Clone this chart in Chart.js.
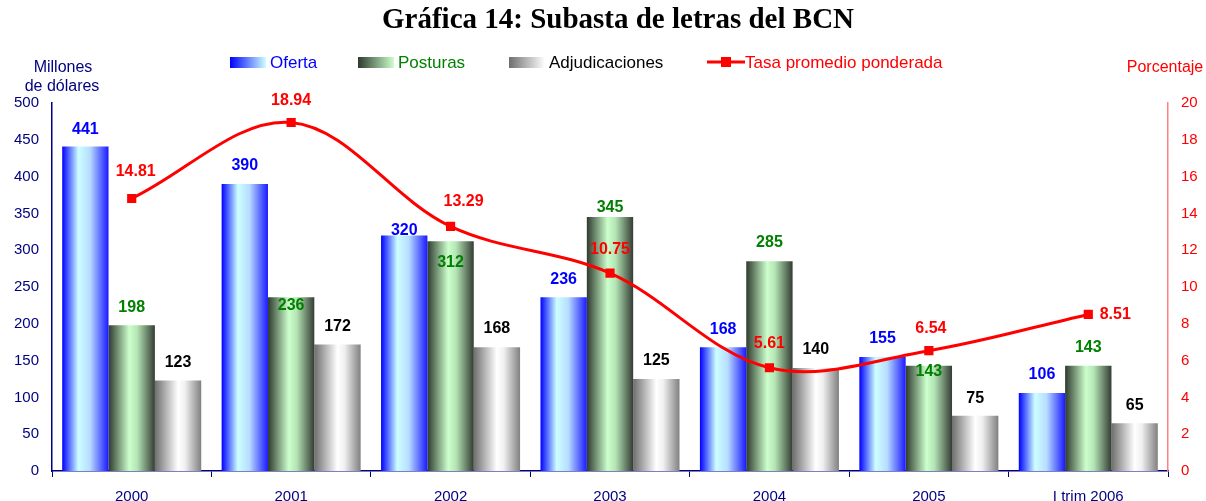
<!DOCTYPE html>
<html>
<head>
<meta charset="utf-8">
<script src="https://cdn.jsdelivr.net/npm/chart.js@4"></script>
<style>
  body { margin: 0; background: #fff; }
  #wrap { width: 1206px; height: 501px; }
</style>
</head>
<body>
<div id="wrap"><canvas id="chart" width="1206" height="501"></canvas></div>
<script>
const categories = ['2000', '2001', '2002', '2003', '2004', '2005', 'I trim 2006'];
const oferta = [441, 390, 320, 236, 168, 155, 106];
const posturas = [198, 236, 312, 345, 285, 143, 143];
const adjudicaciones = [123, 172, 168, 125, 140, 75, 65];
const tasa = [14.81, 18.94, 13.29, 10.75, 5.61, 6.54, 8.51];

// label nudges (pixels) so labels sit like the original
const ofertaLabelDy = [-17, -18, -5, -18, -18, -18, -18];
const posturasLabelDy = [-18, 8, 21, -9, -19, 6, -18];
const adjLabelDy = [-18, -18, -19, -18, -18, -17, -18];
const tasaLabelOff = [[4, -27], [0, -22], [13, -25], [0, -24], [0, -24], [2, -22], [27, 0]];

const CAT_PCT = 0.872;
const SANS = "'Liberation Sans', Arial, sans-serif";

const blueStops = [[0, '#0000ff'], [0.35, '#ccffff'], [0.6, '#b8dcff'], [1, '#1a1aff']];
const greenStops = [[0, '#2e3a2e'], [0.45, '#ccffcc'], [0.62, '#b4e4b4'], [1, '#333c33']];
const grayStops = [[0, '#6e6e6e'], [0.5, '#ffffff'], [0.65, '#f0f0f0'], [1, '#808080']];

function barFill(stops, k) {
    return (c) => {
        const chart = c.chart;
        const xs = chart.scales.x;
        if (!xs || c.dataIndex === undefined) return stops[1][1];
        const barW = xs.width / categories.length * CAT_PCT / 3;
        const left = xs.getPixelForValue(c.dataIndex) - 1.5 * barW + k * barW;
        if (!Number.isFinite(left) || !Number.isFinite(barW) || barW <= 0) return stops[1][1];
        const g = chart.ctx.createLinearGradient(left, 0, left + barW, 0);
        stops.forEach(s => g.addColorStop(s[0], s[1]));
        return g;
    };
}

const decorations = {
    id: 'decorations',
    afterDraw(chart) {
        const ctx = chart.ctx;
        ctx.save();
        // title
        ctx.fillStyle = '#000';
        ctx.font = "bold 29px 'Liberation Serif', 'Times New Roman', serif";
        ctx.textAlign = 'center';
        ctx.textBaseline = 'middle';
        ctx.fillText('Gráfica 14: Subasta de letras del BCN', 618, 21);

        // axis titles
        ctx.font = '16px ' + SANS;
        ctx.fillStyle = '#000080';
        ctx.fillText('Millones', 63, 68);
        ctx.fillText('de dólares', 62, 87);
        ctx.fillStyle = '#ff0000';
        ctx.fillText('Porcentaje', 1165, 68);

        // legend
        ctx.font = '17px ' + SANS;
        const items = [
            { x: 230, text: 'Oferta', color: '#0000ff', stops: [[0, '#0000ff'], [1, '#ccffff']] },
            { x: 358, text: 'Posturas', color: '#008000', stops: [[0, '#2e3a2e'], [1, '#ccffcc']] },
            { x: 509, text: 'Adjudicaciones', color: '#000000', stops: [[0, '#6e6e6e'], [1, '#ffffff']] }
        ];
        ctx.textAlign = 'left';
        items.forEach(it => {
            const g = ctx.createLinearGradient(it.x, 0, it.x + 36, 0);
            it.stops.forEach(s => g.addColorStop(s[0], s[1]));
            ctx.fillStyle = g;
            ctx.fillRect(it.x, 57, 36, 11);
            ctx.fillStyle = it.color;
            ctx.fillText(it.text, it.x + 40, 63);
        });
        ctx.strokeStyle = '#ff0000';
        ctx.lineWidth = 3;
        ctx.beginPath();
        ctx.moveTo(707, 62);
        ctx.lineTo(745, 62);
        ctx.stroke();
        ctx.fillStyle = '#ff0000';
        ctx.fillRect(721, 57, 10, 10);
        ctx.fillText('Tasa promedio ponderada', 745, 63);

        // value labels
        ctx.font = 'bold 16px ' + SANS;
        ctx.textAlign = 'center';
        const specs = [
            { i: 0, color: '#0000ff', off: ofertaLabelDy.map(d => [0, d]) },
            { i: 1, color: '#008000', off: posturasLabelDy.map(d => [0, d]) },
            { i: 2, color: '#000000', off: adjLabelDy.map(d => [0, d]) },
            { i: 3, color: '#ff0000', off: tasaLabelOff }
        ];
        specs.forEach(s => {
            const meta = chart.getDatasetMeta(s.i);
            const vals = chart.data.datasets[s.i].data;
            ctx.fillStyle = s.color;
            meta.data.forEach((el, j) => {
                const txt = s.i === 3 ? vals[j].toFixed(2) : String(vals[j]);
                ctx.fillText(txt, el.x + s.off[j][0], el.y + s.off[j][1]);
            });
        });
        ctx.restore();
    }
};

new Chart(document.getElementById('chart').getContext('2d'), {
    data: {
        labels: categories,
        datasets: [
            {
                type: 'bar', label: 'Oferta', data: oferta, yAxisID: 'y', order: 1,
                backgroundColor: barFill(blueStops, 0), borderWidth: 0,
                categoryPercentage: CAT_PCT, barPercentage: 1
            },
            {
                type: 'bar', label: 'Posturas', data: posturas, yAxisID: 'y', order: 1,
                backgroundColor: barFill(greenStops, 1), borderWidth: 0,
                categoryPercentage: CAT_PCT, barPercentage: 1
            },
            {
                type: 'bar', label: 'Adjudicaciones', data: adjudicaciones, yAxisID: 'y', order: 1,
                backgroundColor: barFill(grayStops, 2), borderWidth: 0,
                categoryPercentage: CAT_PCT, barPercentage: 1
            },
            {
                type: 'line', label: 'Tasa promedio ponderada', data: tasa, yAxisID: 'y1', order: 0,
                borderColor: '#ff0000', borderWidth: 3, tension: 0.35,
                pointStyle: 'rect', pointRadius: 6.5,
                pointBackgroundColor: '#ff0000', pointBorderColor: '#ff0000', pointBorderWidth: 0,
                fill: false
            }
        ]
    },
    options: {
        responsive: false,
        animation: false,
        layout: { padding: { top: 103, left: 0, right: 0, bottom: 0 } },
        plugins: {
            legend: { display: false },
            title: { display: false },
            tooltip: { enabled: false }
        },
        scales: {
            x: {
                offset: true,
                grid: {
                    display: true, drawOnChartArea: false, drawTicks: true, tickLength: 6,
                    color: '#000080', lineWidth: 1, offset: true
                },
                border: { color: '#000080', width: 1.5 },
                ticks: { color: '#000080', font: { family: SANS, size: 15 }, padding: 11, maxRotation: 0 },
                afterFit: (s) => { s.height = 30; }
            },
            y: {
                position: 'left',
                min: 0, max: 500,
                grid: { display: false, drawTicks: false },
                border: { color: '#000080', width: 1.5 },
                ticks: { stepSize: 50, color: '#000080', font: { family: SANS, size: 15 }, padding: 13 },
                afterFit: (s) => { s.width = 52; }
            },
            y1: {
                position: 'right',
                min: 0, max: 20,
                grid: { display: false, drawTicks: false },
                border: { color: '#ff8080', width: 1.5 },
                ticks: { stepSize: 2, color: '#ff0000', font: { family: SANS, size: 15 }, padding: 13 },
                afterFit: (s) => { s.width = 38; }
            }
        }
    },
    plugins: [decorations]
});
</script>
</body>
</html>
